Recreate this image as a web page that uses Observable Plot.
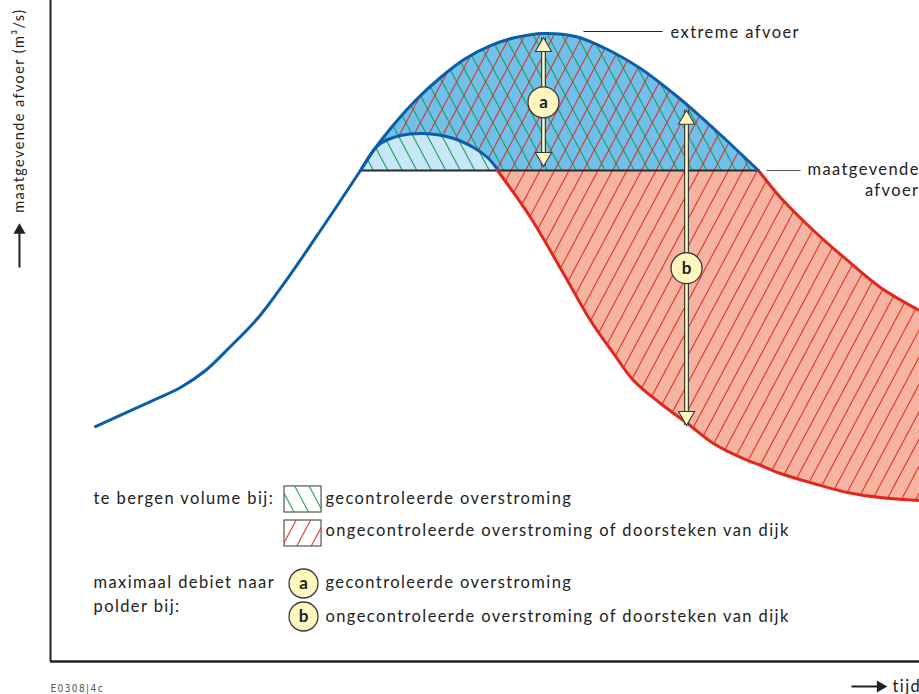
<!DOCTYPE html>
<html><head><meta charset="utf-8">
<script src="https://cdn.jsdelivr.net/npm/d3@7"></script>
<script src="https://cdn.jsdelivr.net/npm/@observablehq/plot@0.6"></script>
<style>body{margin:0;background:#fff}#chart svg{display:block}</style>
</head><body><div id="chart"></div>
<script>
// ---------- data (time t in arbitrary units 0–100, discharge Q in arbitrary units 0–100) ----------
const Q_MAAT = 74.28; // maatgevende afvoer
// extreme afvoer, up to where it falls back to the maatgevende afvoer (blue part)
const extremeT = [5.18, 11.51, 14.96, 17.84, 20.71, 23.82, 27.27, 31.07, 35.67, 37.17, 39.13, 42.00, 44.88, 47.76, 50.63, 53.51, 56.73, 60.41, 64.10, 67.89, 71.69, 74.80, 77.45, 79.40, 81.47];
const extremeQ = [35.55, 39.33, 41.45, 44.02, 47.66, 51.89, 57.94, 65.20, 74.28, 77.31, 80.64, 84.87, 88.35, 91.22, 93.19, 94.40, 95.01, 94.55, 92.59, 89.71, 85.93, 82.45, 79.27, 76.85, 74.28];
// extreme afvoer, falling limb below the maatgevende afvoer (red part)
const extremeRedT = [81.47, 84.00, 87.80, 91.71, 95.51, 100.0];
const extremeRedQ = [74.28, 70.20, 65.20, 60.67, 56.58, 53.10];
// gecontroleerde overstroming (small dome above maatgevende afvoer)
const controlledT = [35.67, 37.17, 37.97, 40.28, 42.92, 46.03, 48.68, 50.29, 51.55];
const controlledQ = [74.28, 77.31, 78.37, 79.58, 79.88, 79.27, 77.76, 76.25, 74.28];
// ongecontroleerde overstroming band: lower (red) curve and upper bound
const bandT     = [51.44, 55.24, 59.03, 62.14, 64.79, 67.09, 70.20, 73.30, 76.29, 80.21, 81.47, 84.00, 87.80, 91.71, 95.51, 100.0];
const bandLowQ  = [74.28, 67.17, 58.70, 51.59, 46.60, 42.51, 39.03, 36.01, 32.98, 30.41, 29.80, 28.44, 26.93, 25.57, 24.81, 24.36];
const bandHighQ = [74.28, 74.28, 74.28, 74.28, 74.28, 74.28, 74.28, 74.28, 74.28, 74.28, 74.28, 70.20, 65.20, 60.67, 56.58, 53.10];
// maximaal debiet arrows a and b
const arrowLabels = ["a", "b"];
const arrowT      = [56.73, 73.19];
const arrowLowQ   = [74.9, 35.7];
const arrowHighQ  = [94.4, 83.4];
const arrowMidQ   = [84.6, 59.5];
// texts
const yLabel = "maatgevende afvoer (m³/s)";
const xLabel = "tijd";
const codeLabel = "E0308|4c";
const curveLabels = ["extreme afvoer", "maatgevende", "afvoer"];
const legendVolumeTitle = "te bergen volume bij:";
const legendDebietTitle = ["maximaal debiet naar", "polder bij:"];
const legendItems = ["gecontroleerde overstroming", "ongecontroleerde overstroming of doorsteken van dijk"];

// ---------- tables ----------
const extreme = extremeT.map((t, i) => ({t, q: extremeQ[i]}));
const extremeAbove = extreme.filter(d => d.q >= Q_MAAT);
const extremeRed = extremeRedT.map((t, i) => ({t, q: extremeRedQ[i]}));
const controlled = controlledT.map((t, i) => ({t, q: controlledQ[i]}));
const band = bandT.map((t, i) => ({t, lo: bandLowQ[i], hi: bandHighQ[i]}));
const arrows = arrowLabels.map((label, i) => ({label, t: arrowT[i], lo: arrowLowQ[i], hi: arrowHighQ[i], mid: arrowMidQ[i]}));
const tStart = extremeAbove[0].t, tEnd = extremeAbove[extremeAbove.length - 1].t;

// ---------- styles ----------
const BLUE = "#0b5ea6", RED = "#e1271d", DARK = "#222";
const MID_BLUE = "#6fc1ec", LIGHT_BLUE = "#c8e7f8", SALMON = "#f5b4a1", YELLOW = "#fff6c0";
const curve = "catmull-rom";
const headR = 6, headOff = 9.3;
const FS = 16.5;
const lt = (extra) => Object.assign({frameAnchor: "top-left", textAnchor: "start", lineAnchor: "middle", fill: DARK, fontSize: FS}, extra);

const svg = Plot.plot({
  width: 919, height: 694,
  marginLeft: 50, marginRight: 0, marginTop: 0, marginBottom: 33,
  x: {domain: [0, 100], axis: null},
  y: {domain: [0, 100], axis: null},
  style: {fontFamily: "Lato, 'Noto Sans', sans-serif", fontSize: FS + "px", color: DARK, letterSpacing: "1.4px", background: "#fff"},
  marks: [
    // ongecontroleerde band
    Plot.areaY(band, {x: "t", y1: "lo", y2: "hi", curve, fill: SALMON}),
    Plot.areaY(band, {x: "t", y1: "lo", y2: "hi", curve, fill: "url(#hatchRed)"}),
    // volume above maatgevende afvoer
    Plot.areaY(extremeAbove, {x: "t", y1: Q_MAAT, y2: "q", curve, fill: MID_BLUE}),
    Plot.areaY(extremeAbove, {x: "t", y1: Q_MAAT, y2: "q", curve, fill: "url(#hatchGreen)"}),
    Plot.areaY(extremeAbove, {x: "t", y1: Q_MAAT, y2: "q", curve, fill: "url(#hatchRed)"}),
    // gecontroleerde volume
    Plot.areaY(controlled, {x: "t", y1: Q_MAAT, y2: "q", curve, fill: LIGHT_BLUE}),
    Plot.areaY(controlled, {x: "t", y1: Q_MAAT, y2: "q", curve, fill: "url(#hatchGreen)"}),
    // maatgevende afvoer line
    Plot.ruleY([Q_MAAT], {x1: tStart, x2: tEnd, stroke: "#2b2b2b", strokeWidth: 2}),
    // curves
    Plot.line(controlled, {x: "t", y: "q", curve, stroke: BLUE, strokeWidth: 3}),
    Plot.line(band, {x: "t", y: "lo", curve, stroke: RED, strokeWidth: 3}),
    Plot.line(extremeRed, {x: "t", y: "q", curve, stroke: RED, strokeWidth: 3}),
    Plot.line(extreme, {x: "t", y: "q", curve, stroke: BLUE, strokeWidth: 3}),
    // axes
    Plot.ruleX([0], {stroke: DARK, strokeWidth: 2}),
    Plot.ruleY([0], {stroke: DARK, strokeWidth: 2.5}),
    // arrows a, b
    Plot.ruleX(arrows, {x: "t", y1: "lo", y2: "hi", stroke: "#3a3a3a", strokeWidth: 5}),
    Plot.ruleX(arrows, {x: "t", y1: "lo", y2: "hi", stroke: YELLOW, strokeWidth: 2.6}),
    Plot.dot(arrows, {x: "t", y: "hi", symbol: "triangle", r: headR, dy: headOff, fill: YELLOW, stroke: "#3a3a3a", strokeWidth: 1.1}),
    Plot.dot(arrows, {x: "t", y: "lo", symbol: "triangle", rotate: 180, r: headR, dy: -headOff, fill: YELLOW, stroke: "#3a3a3a", strokeWidth: 1.1}),
    Plot.dot(arrows, {x: "t", y: "mid", r: 15.5, fill: YELLOW, stroke: "#3a3a3a", strokeWidth: 1.3}),
    Plot.text(arrows, {x: "t", y: "mid", text: "label", fontWeight: "bold", fontSize: 17, fill: DARK, dx: 0.7}),
    // curve labels
    Plot.link([0], {x1: 61.33, x2: 70.43, y1: 95.31, y2: 95.31, stroke: DARK, strokeWidth: 1.2}),
    Plot.text([curveLabels[0]], {x: 71.35, y: 95.16, textAnchor: "start", fill: DARK}),
    Plot.link([0], {x1: 82.4, x2: 86.31, y1: Q_MAAT, y2: Q_MAAT, stroke: "#555", strokeWidth: 1.2}),
    Plot.text([curveLabels[1]], {x: 87.11, y: 74.43, textAnchor: "start", fill: DARK}),
    Plot.text([curveLabels[2]], {x: 100, y: 71.26, textAnchor: "end", fill: DARK}),
    // y axis label with arrow
    Plot.text([yLabel], {frameAnchor: "top-left", dx: -31, dy: 8, rotate: -90, textAnchor: "end", lineAnchor: "middle", fontSize: 14.5, fill: DARK}),
    Plot.link([0], {x1: -3.57, x2: -3.57, y1: 59.6, y2: 65.0, stroke: DARK, strokeWidth: 2}),
    Plot.dot([0], {x: -3.57, y: 66.3, symbol: "triangle", r: 4.5, dy: 7, fill: DARK, stroke: "none"}),
    // x axis label with arrow
    Plot.link([0], {x1: 92.17, x2: 95.4, y1: -3.78, y2: -3.78, stroke: DARK, strokeWidth: 2}),
    Plot.dot([0], {x: 96.3, y: -3.78, symbol: "triangle", rotate: 90, r: 4.5, dx: -7, fill: DARK, stroke: "none"}),
    Plot.text([xLabel], {frameAnchor: "bottom-right", dx: -27, dy: 25, textAnchor: "start", lineAnchor: "middle", fill: DARK}),
    Plot.text([codeLabel], {frameAnchor: "bottom-left", dx: 0, dy: 27, textAnchor: "start", lineAnchor: "middle", fontSize: 10, fill: "#555", fontFamily: "'DejaVu Sans Condensed', 'DejaVu Sans', sans-serif"}),
    // legend: volume
    Plot.text([legendVolumeTitle], lt({dx: 43, dy: 498})),
    Plot.rect([0], {x1: 26.93, x2: 31.19, y1: 26.48, y2: 22.54, fill: "#fff", stroke: "#555", strokeWidth: 1.2}),
    Plot.rect([0], {x1: 26.93, x2: 31.19, y1: 26.48, y2: 22.54, fill: "url(#hatchGreen)"}),
    Plot.text([legendItems[0]], lt({dx: 275, dy: 498})),
    Plot.rect([0], {x1: 26.93, x2: 31.19, y1: 21.33, y2: 17.40, fill: "#fff", stroke: "#555", strokeWidth: 1.2}),
    Plot.rect([0], {x1: 26.93, x2: 31.19, y1: 21.33, y2: 17.40, fill: "url(#hatchRed)"}),
    Plot.text([legendItems[1]], lt({dx: 275, dy: 530})),
    // legend: debiet
    Plot.text([legendDebietTitle[0]], lt({dx: 43, dy: 582})),
    Plot.text([legendDebietTitle[1]], lt({dx: 43, dy: 606})),
    Plot.dot([arrowLabels[0]], {frameAnchor: "top-left", dx: 253, dy: 583, r: 14.5, fill: YELLOW, stroke: "#3a3a3a", strokeWidth: 1.3}),
    Plot.text([arrowLabels[0]], lt({dx: 253.7, dy: 583, textAnchor: "middle", fontWeight: "bold", fontSize: 17})),
    Plot.text([legendItems[0]], lt({dx: 275, dy: 582})),
    Plot.dot([arrowLabels[1]], {frameAnchor: "top-left", dx: 253, dy: 616, r: 14.5, fill: YELLOW, stroke: "#3a3a3a", strokeWidth: 1.3}),
    Plot.text([arrowLabels[1]], lt({dx: 253.7, dy: 616, textAnchor: "middle", fontWeight: "bold", fontSize: 17})),
    Plot.text([legendItems[1]], lt({dx: 275, dy: 616}))
  ]
});

// hatch patterns
const defs = document.createElementNS("http://www.w3.org/2000/svg", "defs");
defs.innerHTML =
  '<pattern id="hatchRed" patternUnits="userSpaceOnUse" width="12.8" height="12.8" patternTransform="rotate(28)">' +
  '<line x1="6.4" y1="-1" x2="6.4" y2="13.8" stroke="#e62a20" stroke-width="1.1"/></pattern>' +
  '<pattern id="hatchGreen" patternUnits="userSpaceOnUse" width="12.8" height="12.8" patternTransform="rotate(-28)">' +
  '<line x1="6.4" y1="-1" x2="6.4" y2="13.8" stroke="#1d9a4f" stroke-width="1.1"/></pattern>';
svg.insertBefore(defs, svg.firstChild);
document.getElementById("chart").appendChild(svg);
</script></body></html>
